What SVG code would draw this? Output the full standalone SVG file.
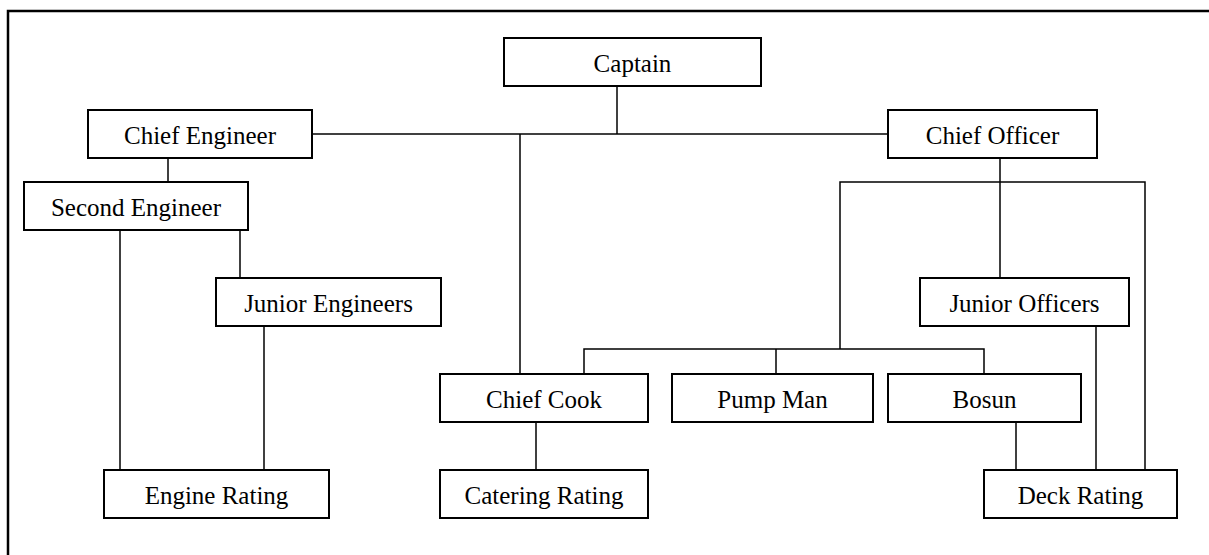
<svg xmlns="http://www.w3.org/2000/svg" width="1209" height="555" viewBox="0 0 1209 555">
  <style>
    .box { fill: #ffffff; stroke: #000000; stroke-width: 2; }
    .label { font-family: "Liberation Serif", "Times New Roman", serif; font-size: 25px; fill: #000000; text-anchor: middle; }
    .wire { fill: none; stroke: #000000; stroke-width: 1.5; }
    .frame { fill: none; stroke: #000000; stroke-width: 2.5; }
  </style>
  <rect x="0" y="0" width="1209" height="555" fill="#ffffff"/>

  <!-- page frame (open on the right and bottom) -->
  <path class="frame" d="M8 555 V11 H1209"/>

  <!-- reporting lines -->
  <g id="connectors">
    <path class="wire" d="M617 86 V134"/>
    <path class="wire" d="M312 134 H888"/>
    <path class="wire" d="M520 134 V374"/>
    <path class="wire" d="M168 158 V182"/>
    <path class="wire" d="M120 230 V470"/>
    <path class="wire" d="M240 230 V278"/>
    <path class="wire" d="M264 326 V470"/>
    <path class="wire" d="M1000 158 V278"/>
    <path class="wire" d="M840 349 V182 H1145 V470"/>
    <path class="wire" d="M584 374 V349 H984 V374"/>
    <path class="wire" d="M776 349 V374"/>
    <path class="wire" d="M536 422 V470"/>
    <path class="wire" d="M1016 422 V470"/>
    <path class="wire" d="M1096 326 V470"/>
  </g>

  <g id="captain">
    <rect class="box" x="504" y="38" width="257" height="48"/>
    <text class="label" x="632.5" y="72">Captain</text>
  </g>
  <g id="chief-engineer">
    <rect class="box" x="88" y="110" width="224" height="48"/>
    <text class="label" x="200" y="144">Chief Engineer</text>
  </g>
  <g id="chief-officer">
    <rect class="box" x="888" y="110" width="209" height="48"/>
    <text class="label" x="992.5" y="144">Chief Officer</text>
  </g>
  <g id="second-engineer">
    <rect class="box" x="24" y="182" width="224" height="48"/>
    <text class="label" x="136" y="216">Second Engineer</text>
  </g>
  <g id="junior-engineers">
    <rect class="box" x="216" y="278" width="225" height="48"/>
    <text class="label" x="328.5" y="312">Junior Engineers</text>
  </g>
  <g id="junior-officers">
    <rect class="box" x="920" y="278" width="209" height="48"/>
    <text class="label" x="1024.5" y="312">Junior Officers</text>
  </g>
  <g id="chief-cook">
    <rect class="box" x="440" y="374" width="208" height="48"/>
    <text class="label" x="544" y="408">Chief Cook</text>
  </g>
  <g id="pump-man">
    <rect class="box" x="672" y="374" width="201" height="48"/>
    <text class="label" x="772.5" y="408">Pump Man</text>
  </g>
  <g id="bosun">
    <rect class="box" x="888" y="374" width="193" height="48"/>
    <text class="label" x="984.5" y="408">Bosun</text>
  </g>
  <g id="engine-rating">
    <rect class="box" x="104" y="470" width="225" height="48"/>
    <text class="label" x="216.5" y="504">Engine Rating</text>
  </g>
  <g id="catering-rating">
    <rect class="box" x="440" y="470" width="208" height="48"/>
    <text class="label" x="544" y="504">Catering Rating</text>
  </g>
  <g id="deck-rating">
    <rect class="box" x="984" y="470" width="193" height="48"/>
    <text class="label" x="1080.5" y="504">Deck Rating</text>
  </g>
</svg>
